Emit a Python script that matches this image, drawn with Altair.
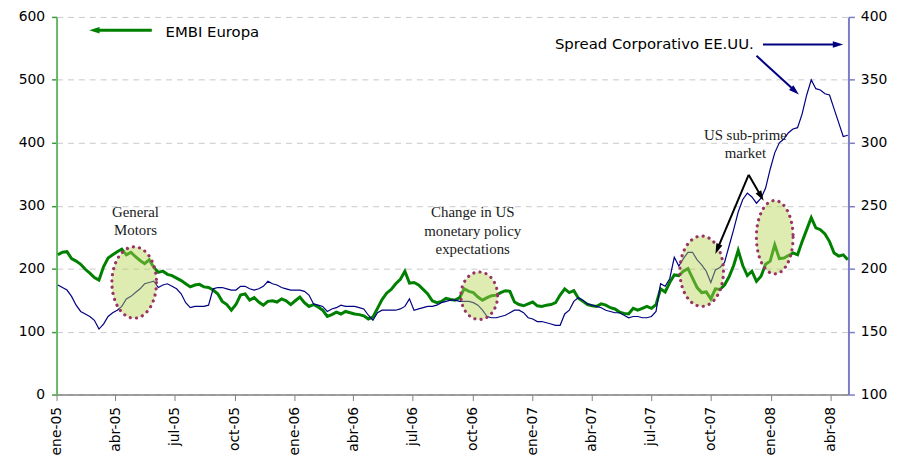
import math
import altair as alt
import pandas as pd

WEEK_START = "2005-01-03"

embi_europa = [222, 226, 227, 216, 212, 207, 199, 193, 186, 182,
               203, 217, 222, 227, 231, 222, 226, 219, 213, 208,
               214, 202, 194, 196, 191, 189, 185, 181, 176, 171,
               174, 175, 171, 170, 166, 160, 148, 143, 134, 143,
               158, 160, 150, 154, 147, 142, 148, 149, 147, 152,
               149, 143, 149, 155, 146, 140, 143, 139, 134, 124,
               127, 131, 128, 132, 130, 128, 127, 125, 120, 123,
               137, 151, 161, 167, 176, 183, 196, 177, 178, 174,
               167, 160, 149, 146, 148, 153, 151, 150, 154, 168,
               164, 162, 155, 150, 154, 157, 158, 162, 165, 164,
               147, 143, 141, 144, 147, 141, 140, 142, 143, 146,
               158, 168, 162, 165, 153, 148, 143, 141, 140, 144,
               142, 138, 136, 131, 129, 128, 137, 134, 137, 140,
               137, 143, 168, 163, 178, 190, 189, 196, 200, 185,
               170, 162, 163, 152, 168, 167, 174, 187, 205, 229,
               205, 189, 196, 180, 188, 207, 212, 238, 216, 217,
               221, 225, 222, 243, 262, 281, 265, 262, 255, 243,
               225, 220, 222, 214]

spread_corporativo = [187, 185, 183, 178, 171, 166, 164, 162, 159, 152,
                      156, 162, 165, 167, 170, 176, 178, 181, 184, 188,
                      189, 190, 185, 187, 188, 186, 184, 180, 173, 169,
                      170, 170, 170, 171, 184, 185, 185, 184, 183, 183,
                      186, 186, 184, 183, 184, 186, 190, 188, 187, 185,
                      184, 183, 183, 183, 182, 179, 172, 171, 170, 166,
                      168, 169, 171, 170, 170, 170, 169, 168, 163, 159,
                      165, 167, 167, 167, 167, 168, 170, 176, 167, 168,
                      169, 170, 170, 171, 173, 174, 175, 175, 174, 174,
                      174, 173, 171, 167, 162, 161, 161, 162, 163, 165,
                      167, 167, 165, 161, 160, 158, 158, 157, 156, 155,
                      155, 164, 167, 174, 177, 175, 172, 171, 170, 169,
                      167, 166, 165, 165, 163, 161, 162, 162, 161, 161,
                      162, 166, 188, 186, 192, 209, 202, 208, 213, 213,
                      207, 203, 198, 189, 199, 201, 205, 218, 231, 245,
                      255, 260, 257, 252, 256, 264, 279, 292, 300, 303,
                      308, 311, 312, 323, 338, 350, 343, 342, 339, 338,
                      327, 316, 305, 306]

month_names = ["ene", "feb", "mar", "abr", "may", "jun",
               "jul", "ago", "sep", "oct", "nov", "dic"]
x_start, x_end = "2005-01-01", "2008-04-29"
left_ticks = [0, 100, 200, 300, 400, 500, 600]
right_ticks = [100, 150, 200, 250, 300, 350, 400]

# annotations (anchored in left-axis units)
label_text = ["EMBI Europa", "Spread Corporativo EE.UU."]
label_date = ["2005-06-17", "2007-02-04"]
label_val = [576.6, 556.3]

note_text = ["General", "Motors", "Change in US", "monetary policy",
             "expectations", "US sub-prime", "market"]
note_date = ["2005-05-02", "2005-05-02", "2006-10-01", "2006-10-01",
             "2006-10-01", "2007-11-23", "2007-11-23"]
note_val = [289.5, 262.0, 289.5, 260.5, 230.8, 413.0, 383.3]

ellipse_date = ["2005-04-30", "2006-10-11", "2007-09-17", "2008-01-07"]
ellipse_val = [178, 157, 196, 250]

arrow_name = ["embi", "spread_right", "spread_diag", "subprime_1", "subprime_2"]
arrow_from_date = ["2005-05-27", "2007-12-20", "2007-12-10", "2007-11-28", "2007-11-28"]
arrow_from_val = [578.9, 556.3, 538.3, 349.2, 349.2]
arrow_to_date = ["2005-02-20", "2008-04-21", "2008-02-13", "2007-10-08", "2007-12-21"]
arrow_to_val = [578.9, 556.3, 476.6, 223.4, 307.8]

# ---------------- styles ----------------
W, H = 799, 381
ellipse_px = [(45, 72), (37, 48), (44, 71), (37, 74)]  # width, height in pixels
arrow_color = {"embi": "#008000", "spread_right": "#000080", "spread_diag": "#000080",
               "subprime_1": "#000000", "subprime_2": "#000000"}
arrow_width = {"embi": 3, "spread_right": 2, "spread_diag": 2,
               "subprime_1": 2, "subprime_2": 2}
HEAD_SIZE = 110
HEAD_PATH = "M 0 -1 L 0.62 1 L -0.62 1 Z"

# ---------------- tables ----------------
dates = pd.date_range(WEEK_START, periods=len(embi_europa), freq="7D").strftime("%Y-%m-%d")
df_embi = pd.DataFrame({"date": dates, "value": embi_europa})
df_spread = pd.DataFrame({"date": dates, "value": spread_corporativo})


def dt(s):
    t = pd.Timestamp(s)
    return alt.DateTime(year=t.year, month=t.month, date=t.day, utc=True)


T0 = pd.Timestamp(x_start)
DAYS = (pd.Timestamp(x_end) - T0).days
PX_DAY = W / DAYS
PX_UNIT = H / 600.0


def day(s):
    return (pd.Timestamp(s) - T0).total_seconds() / 86400.0


def iso(d):
    return (T0 + pd.Timedelta(days=d)).strftime("%Y-%m-%dT%H:%M:%SZ")


rows_rule, rows_head = [], []
h = math.sqrt(HEAD_SIZE) / 2
for n, fd, fv, td, tv in zip(arrow_name, arrow_from_date, arrow_from_val,
                             arrow_to_date, arrow_to_val):
    dx = (day(td) - day(fd)) * PX_DAY
    dy = -(tv - fv) * PX_UNIT
    L = math.hypot(dx, dy)
    ux, uy = dx / L, dy / L
    ang = math.degrees(math.atan2(ux, -uy)) % 360
    cday = day(td) - h * ux / PX_DAY
    cval = tv + h * uy / PX_UNIT
    rows_rule.append({"date": iso(day(fd)), "val": fv, "date2": iso(cday), "val2": cval,
                      "color": arrow_color[n], "w": arrow_width[n]})
    rows_head.append({"date": iso(cday), "val": cval, "angle": ang, "color": arrow_color[n]})
df_rule = pd.DataFrame(rows_rule)
df_head = pd.DataFrame(rows_head)

# ---------------- scales ----------------
x_scale = alt.Scale(type="utc", domain=[dt(x_start), dt(x_end)], nice=False)
y_left = alt.Scale(domain=[0, 600], nice=False)
y_right = alt.Scale(domain=[100, 400], nice=False)
y_ann = alt.Scale(domain=[0, 600], nice=False)

month_expr = ("[" + ",".join(f"'{m}'" for m in month_names) + "]"
              "[utcmonth(datum.value)] + '-' + utcFormat(datum.value, '%y')")

# the same axis object on every layer, so that the shared x axis merges cleanly
x_axis = alt.Axis(orient="bottom", tickCount={"interval": "month", "step": 3},
                  labelExpr=month_expr,
                  labelAngle=270, labelAlign="right", labelBaseline="middle",
                  labelFont="DejaVu Sans", labelFontSize=14, labelColor="#000000",
                  labelPadding=6, labelOverlap=False, domainColor="#808080",
                  domainWidth=1.5, tickColor="#808080", tickSize=6, tickWidth=1,
                  grid=False, title=None)


def X():
    return alt.X("date:T", scale=x_scale, axis=x_axis)


def Y_ann():
    return alt.Y("val:Q", scale=y_ann, axis=None)


green = alt.Chart(df_embi).mark_line(color="#008000", strokeWidth=3).encode(
    x=X(),
    y=alt.Y("value:Q", scale=y_left, axis=alt.Axis(
        orient="left", values=left_ticks, title=None, labelFont="DejaVu Sans",
        labelFontSize=14, labelColor="#000000", labelPadding=7,
        domainColor="#66b866", domainWidth=2, tickColor="#3a9a3a", tickSize=5,
        tickWidth=1.5, grid=True, gridColor="#c8c8c8", gridDash=[6, 5], gridWidth=1)),
)

blue = alt.Chart(df_spread).mark_line(color="#000080", strokeWidth=1.2).encode(
    x=X(),
    y=alt.Y("value:Q", scale=y_right, axis=alt.Axis(
        orient="right", values=right_ticks, title=None, labelFont="DejaVu Sans",
        labelFontSize=14, labelColor="#000000", labelPadding=6,
        domainColor="#7b7bc8", domainWidth=2, tickColor="#7b7bc8", tickSize=6,
        tickWidth=1.5, grid=False)),
)


def ellipse_path(w, hh):
    m = max(w, hh)
    rx, ry = w / m, hh / m
    k = 0.5523
    return (f"M {rx} 0 C {rx} {k*ry} {k*rx} {ry} 0 {ry} "
            f"C {-k*rx} {ry} {-rx} {k*ry} {-rx} 0 "
            f"C {-rx} {-k*ry} {-k*rx} {-ry} 0 {-ry} "
            f"C {k*rx} {-ry} {rx} {-k*ry} {rx} 0 Z"), m * m


ellipses = []
for d, v, (w, hh) in zip(ellipse_date, ellipse_val, ellipse_px):
    path, size = ellipse_path(w, hh)
    ellipses.append(
        alt.Chart(pd.DataFrame({"date": [d], "val": [v]})).mark_point(
            shape=path, size=size, filled=True, fill="#b6d554", fillOpacity=0.45,
            stroke="#993366", strokeOpacity=1, strokeWidth=3.2, strokeDash=[0.1, 6.2],
            strokeCap="round", opacity=1,
        ).encode(x=X(), y=Y_ann())
    )

rules = alt.Chart(df_rule).mark_rule().encode(
    x=X(), y=Y_ann(),
    x2="date2:T",
    y2="val2:Q",
    color=alt.Color("color:N", scale=None),
    strokeWidth=alt.StrokeWidth("w:Q", scale=None),
)

heads = alt.Chart(df_head).mark_point(shape=HEAD_PATH, size=HEAD_SIZE, filled=True,
                                      opacity=1).encode(
    x=X(), y=Y_ann(),
    angle=alt.Angle("angle:Q", scale=None),
    color=alt.Color("color:N", scale=None),
)

labels = alt.Chart(pd.DataFrame({"date": label_date, "val": label_val, "text": label_text})
                   ).mark_text(font="DejaVu Sans", fontSize=15, align="left",
                               baseline="middle", color="#000000").encode(
    x=X(), y=Y_ann(), text="text:N",
)

notes = alt.Chart(pd.DataFrame({"date": note_date, "val": note_val, "text": note_text})
                  ).mark_text(font="Liberation Serif", fontSize=15, align="center",
                              baseline="middle", color="#1a1a1a").encode(
    x=X(), y=Y_ann(), text="text:N",
)

chart = alt.layer(green, blue, *ellipses, rules, heads, labels, notes).resolve_scale(
    y="independent"
).properties(
    width=W, height=H,
    autosize=alt.AutoSizeParams(type="none"),
    padding={"left": 49, "top": 7, "right": 50, "bottom": 59},
).configure_view(stroke=None)

chart.save("out.html", embed_options={"renderer": "svg", "actions": False})
